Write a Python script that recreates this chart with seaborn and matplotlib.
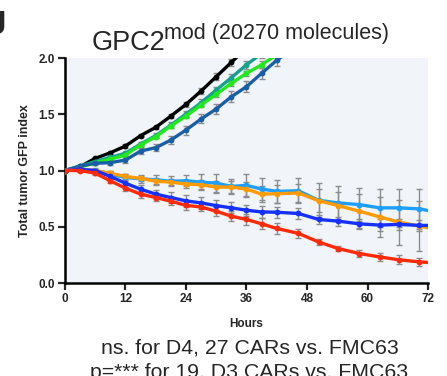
import numpy as np
import pandas as pd
import matplotlib
matplotlib.use("Agg")
import matplotlib.pyplot as plt
import seaborn as sns

# time points (hours)
hours = [0, 3, 6, 9, 12, 15, 18, 21, 24, 27, 30, 33, 36, 39, 42,
         46.3, 50.3, 54.2, 58.4, 62.4, 66.3, 70.3, 74.3]

# mean GFP index per CAR
black = [1.0, 1.034, 1.108, 1.158, 1.218, 1.31, 1.384, 1.484, 1.588, 1.707, 1.834, 1.962, 2.09]
teal = [1.0, 1.04, 1.08, 1.117, 1.153, 1.236, 1.31, 1.404, 1.502, 1.603, 1.716, 1.825, 1.94, 2.04, 2.15]
green = [1.0, 1.03, 1.07, 1.10, 1.138, 1.227, 1.30, 1.396, 1.484, 1.582, 1.677, 1.775, 1.864, 1.94, 2.03, 2.15]
steel = [1.0, 1.04, 1.064, 1.07, 1.093, 1.173, 1.203, 1.271, 1.36, 1.458, 1.547, 1.656, 1.745, 1.864, 1.98, 2.12]
lightblue = [1.0, 1.005, 1.0, 0.967, 0.938, 0.926, 0.917, 0.905, 0.909, 0.897, 0.888, 0.859, 0.868,
             0.835, 0.815, 0.82, 0.735, 0.712, 0.697, 0.668, 0.668, 0.659, 0.625]
orange = [1.0, 1.01, 1.0, 0.976, 0.947, 0.93, 0.905, 0.897, 0.88, 0.874, 0.853, 0.853, 0.835,
          0.79, 0.794, 0.8, 0.732, 0.688, 0.638, 0.588, 0.541, 0.506, 0.47]
blue = [1.0, 1.01, 1.0, 0.947, 0.887, 0.834, 0.79, 0.76, 0.73, 0.712, 0.688, 0.668, 0.647,
        0.632, 0.629, 0.618, 0.565, 0.55, 0.526, 0.515, 0.521, 0.512, 0.512]
red = [1.0, 1.0, 0.976, 0.908, 0.843, 0.79, 0.76, 0.727, 0.69, 0.676, 0.638, 0.594, 0.565,
       0.526, 0.485, 0.441, 0.365, 0.306, 0.262, 0.232, 0.206, 0.188, 0.175]

# error (SEM) per point
black_err = [0, 0.01, 0.01, 0.01, 0.015, 0.015, 0.015, 0.02, 0.02, 0.025, 0.03, 0.03, 0.03]
teal_err = [0, 0.01, 0.01, 0.015, 0.015, 0.02, 0.02, 0.025, 0.025, 0.03, 0.03, 0.035, 0.035, 0.04, 0.04]
green_err = [0, 0.01, 0.01, 0.01, 0.01, 0.015, 0.015, 0.015, 0.02, 0.02, 0.02, 0.025, 0.025, 0.03, 0.03, 0.03]
steel_err = [0, 0.01, 0.015, 0.02, 0.025, 0.03, 0.03, 0.035, 0.04, 0.04, 0.045, 0.05, 0.05, 0.05, 0.05, 0.05]
lightblue_err = [0, 0.01, 0.02, 0.03, 0.03, 0.035, 0.04, 0.045, 0.05, 0.07, 0.08, 0.07, 0.1,
                 0.1, 0.1, 0.11, 0.15, 0.15, 0.15, 0.17, 0.17, 0.18, 0.18]
orange_err = [0, 0.01, 0.015, 0.02, 0.02, 0.025, 0.03, 0.03, 0.035, 0.04, 0.05, 0.05, 0.06,
              0.07, 0.08, 0.08, 0.1, 0.12, 0.15, 0.18, 0.2, 0.22, 0.22]
blue_err = [0, 0.01, 0.015, 0.02, 0.03, 0.035, 0.04, 0.045, 0.05, 0.05, 0.05, 0.05, 0.05,
            0.05, 0.05, 0.045, 0.04, 0.04, 0.045, 0.05, 0.05, 0.05, 0.05]
red_err = [0, 0.01, 0.015, 0.02, 0.025, 0.03, 0.03, 0.035, 0.04, 0.04, 0.04, 0.045, 0.05,
           0.05, 0.05, 0.04, 0.03, 0.02, 0.03, 0.035, 0.04, 0.035, 0.03]

series = {
    "FMC63": (black, black_err, "#000000"),
    "teal": (teal, teal_err, "#16a08e"),
    "green": (green, green_err, "#22e81e"),
    "steel": (steel, steel_err, "#1a5fa5"),
    "lightblue": (lightblue, lightblue_err, "#1e9fff"),
    "orange": (orange, orange_err, "#ff9a00"),
    "blue": (blue, blue_err, "#1431ff"),
    "red": (red, red_err, "#ff2a08"),
}

rows = []
for name, (vals, errs, _) in series.items():
    for h, v, e in zip(hours, vals, errs):
        rows.append({"Hours": h, "GFP": v, "err": e, "CAR": name})
df = pd.DataFrame(rows)

sns.set_style("ticks")
plt.rcParams['font.family'] = ['Liberation Sans', 'DejaVu Sans']

fig = plt.figure(figsize=(4.47, 3.76), dpi=100)
ax = fig.add_axes([0.1454, 0.2473, 0.8121, 0.5984])
ax.set_facecolor("#f1f5fa")

# grey capped error bars underneath
for name, (vals, errs, _) in series.items():
    ax.errorbar(hours[:len(vals)], vals, yerr=errs, fmt="none", ecolor="#8c8c8c",
                elinewidth=1.0, capsize=2.5, capthick=1.0, zorder=2)

palette = {k: v[2] for k, v in series.items()}
sns.lineplot(data=df, x="Hours", y="GFP", hue="CAR", palette=palette, marker="o",
             markersize=4.2, markeredgewidth=0, linewidth=2.4, legend=False, ax=ax,
             errorbar=None, sort=False, zorder=3)

ax.set_xlim(0, 72)
ax.set_ylim(0, 2.0)
ax.set_xticks([0, 12, 24, 36, 48, 60, 72])
ax.set_yticks([0.0, 0.5, 1.0, 1.5, 2.0])
ax.set_yticklabels(["0.0", "0.5", "1.0", "1.5", "2.0"])
for s in ["top", "right"]:
    ax.spines[s].set_visible(False)
for s in ["left", "bottom"]:
    ax.spines[s].set_linewidth(1.8)
    ax.spines[s].set_color("black")
ax.tick_params(width=1.6, length=5, labelsize=8.5, pad=2.5)
for lab in ax.get_xticklabels() + ax.get_yticklabels():
    lab.set_fontweight("bold")

ax.set_xlabel("Hours", fontsize=8.5, fontweight="bold", labelpad=9)
ax.set_ylabel("Total tumor GFP index", fontsize=9, fontweight="bold", labelpad=5)

# title: big "GPC2" followed by a smaller raised "mod (20270 molecules)"
fig.text(0.205, 0.867, "GPC2", ha="left", va="baseline", fontsize=19.5)
fig.text(0.368, 0.8955, "mod (20270 molecules)", ha="left", va="baseline", fontsize=15.5)

fig.text(0.558, 0.0604, "ns. for D4, 27 CARs vs. FMC63", ha="center", va="baseline", fontsize=15.3)
fig.text(0.558, -0.004, "p=*** for 19, D3 CARs vs. FMC63", ha="center", va="baseline", fontsize=15.3)
fig.text(-0.028, 0.9096, "J", ha="left", va="baseline", fontsize=24, fontweight="bold")

fig.savefig("out.png", dpi=100)
